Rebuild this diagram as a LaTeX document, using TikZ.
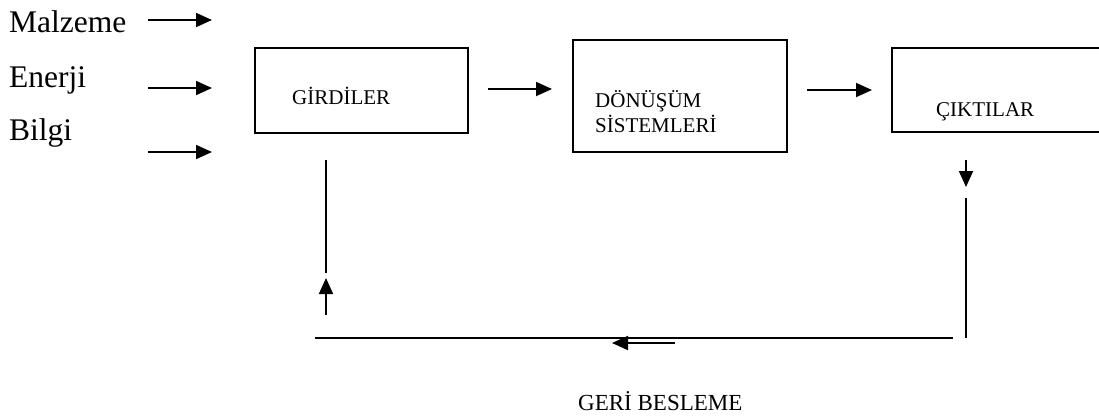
\documentclass[tikz,border=0pt]{standalone}
\usepackage{fontspec}
\setmainfont{Liberation Serif}
\usetikzlibrary{arrows.meta}
\begin{document}
\begin{tikzpicture}[x=1pt,y=-1pt,
  boxnode/.style={draw,line width=1.8pt,inner sep=0pt,outer sep=0pt},
  lbl/.style={anchor=base west,inner sep=0pt,font=\fontsize{21}{25}\selectfont},
  biglbl/.style={anchor=base west,inner sep=0pt,font=\fontsize{31.5}{36}\selectfont},
  flow/.style={line width=1.8pt,-{Triangle[length=16pt,width=14pt]}},
  plainline/.style={line width=1.8pt}]
\useasboundingbox (0,0) rectangle (1099,416);
\clip (0,0) rectangle (1099,416);

% input labels
\node[biglbl] (malz) at (9,32) {Malzeme};
\node[biglbl] (enerji) at (9,87) {Enerji};
\node[biglbl] (bilgi) at (9,140) {Bilgi};

% input arrows
\coordinate (m1) at (148,20);  \coordinate (m2) at (212,20);
\coordinate (e1) at (148,88);  \coordinate (e2) at (212,88);
\coordinate (b1) at (148,152); \coordinate (b2) at (212,152);
\draw[flow] (m1) -- (m2);
\draw[flow] (e1) -- (e2);
\draw[flow] (b1) -- (b2);

% boxes
\node[boxnode,minimum width=213pt,minimum height=85pt] (gir) at (361.5,90.5) {};
\node[boxnode,minimum width=214pt,minimum height=112pt] (don) at (680,96) {};
\node[boxnode,minimum width=220pt,minimum height=84pt] (cik) at (1002,90) {};

% box texts
\node[lbl] (girt) at (292,104) {GİRDİLER};
\node[lbl] (dont1) at (595,107) {DÖNÜŞÜM};
\node[lbl] (dont2) at (595,132) {SİSTEMLERİ};
\node[lbl] (cikt) at (936,116) {ÇIKTILAR};

% arrows between boxes
\coordinate (g1) at (488,89); \coordinate (g2) at (552,89);
\coordinate (d1) at (807,90); \coordinate (d2) at (872,90);
\draw[flow] (g1) -- (g2);
\draw[flow] (d1) -- (d2);

% feedback loop
\coordinate (c1) at (966,160); \coordinate (c2) at (966,187);
\coordinate (r1) at (966,198); \coordinate (r2) at (966,338);
\coordinate (h1) at (953,338); \coordinate (h2) at (315,338);
\coordinate (l1) at (326,160); \coordinate (l2) at (326,273);
\coordinate (u1) at (326,315); \coordinate (u2) at (326,278);
\coordinate (f1) at (675,343); \coordinate (f2) at (612,343);
\draw[flow] (c1) -- (c2);
\draw[plainline] (r1) -- (r2);
\draw[plainline] (h1) -- (h2);
\draw[plainline] (l1) -- (l2);
\draw[flow] (u1) -- (u2);
\draw[flow] (f1) -- (f2);

\node[anchor=base west,inner sep=0pt,font=\fontsize{23}{27}\selectfont] (geri) at (578,410) {GERİ BESLEME};
\end{tikzpicture}
\end{document}
